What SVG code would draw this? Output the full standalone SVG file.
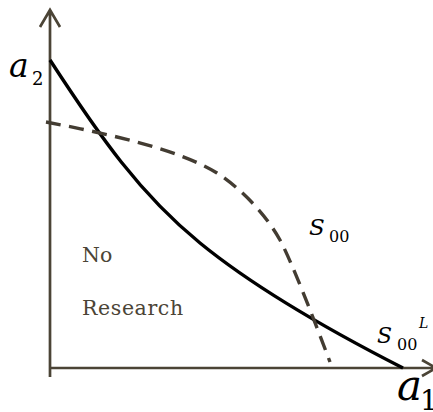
<svg xmlns="http://www.w3.org/2000/svg" width="433" height="412" viewBox="0 0 433 412">
<style>
.ax{stroke:#4b4436;stroke-width:2.7;fill:none}
.sol{stroke:#000;stroke-width:3.4;fill:none;stroke-linecap:butt}
.dash{stroke:#433c32;stroke-width:3.4;fill:none;stroke-dasharray:15,8.5}
.m{font-family:'DejaVu Serif',serif;font-style:italic;fill:#000}
.sub{font-family:'DejaVu Serif',serif;fill:#000}
.lab{font-family:'DejaVu Serif',serif;fill:#4b4436;font-size:20.5px}
</style>
<g id="axes">
<path class="ax" d="M50,377 V11 M40,27 L50,10 L60,27"/>
<path class="ax" d="M49,368 H434 M422,360 L436,368 L422,376"/>
</g>
<g id="connectors">
<path class="sol" d="M50,60 C100,137 140,194 200,243 C260,292 348,340 403,368"/>
<path class="dash" d="M46,122 C110,134 180,150 217,173 C240,188 265,213 280,240 C292,262 318,330 330,362"/>
</g>
<g id="labels">
<text class="m" x="9" y="77" font-size="33">a</text><text class="sub" x="32" y="85" font-size="18">2</text>
<text class="m" x="309" y="235" font-size="23">S</text><text class="sub" x="329" y="242" font-size="16">00</text>
<text class="m" x="377" y="343" font-size="22">S</text><text class="sub" x="397" y="350" font-size="16">00</text><text class="m" x="419" y="328" font-size="14">L</text>
<text class="m" x="397" y="400" font-size="42">a</text><text class="sub" x="420" y="410" font-size="28">1</text>
<text class="lab" x="82" y="262">No</text>
<text class="lab" x="82" y="315" letter-spacing="0.6">Research</text>
</g>
</svg>
